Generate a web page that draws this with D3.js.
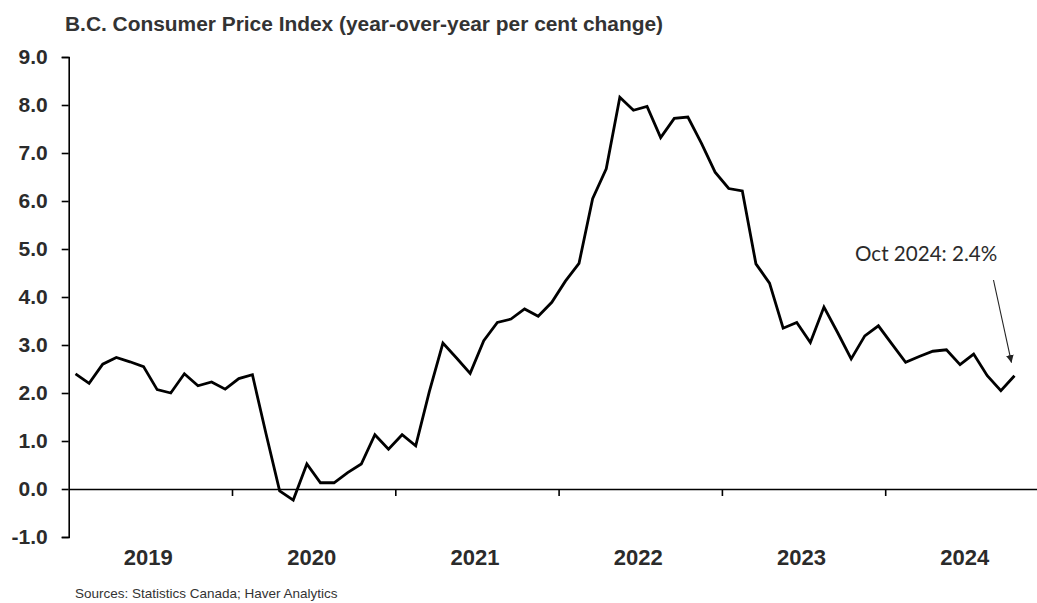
<!DOCTYPE html>
<html>
<head>
<meta charset="utf-8">
<script src="https://cdn.jsdelivr.net/npm/d3@7"></script>
<style>
  html, body { margin: 0; padding: 0; background: #fff; }
  svg { display: block; }
</style>
</head>
<body>
<svg id="chart" width="1037" height="603"></svg>
<script>
// ---- Data ----
const months = [
  "Jan 2019","Feb 2019","Mar 2019","Apr 2019","May 2019","Jun 2019","Jul 2019","Aug 2019","Sep 2019","Oct 2019","Nov 2019","Dec 2019",
  "Jan 2020","Feb 2020","Mar 2020","Apr 2020","May 2020","Jun 2020","Jul 2020","Aug 2020","Sep 2020","Oct 2020","Nov 2020","Dec 2020",
  "Jan 2021","Feb 2021","Mar 2021","Apr 2021","May 2021","Jun 2021","Jul 2021","Aug 2021","Sep 2021","Oct 2021","Nov 2021","Dec 2021",
  "Jan 2022","Feb 2022","Mar 2022","Apr 2022","May 2022","Jun 2022","Jul 2022","Aug 2022","Sep 2022","Oct 2022","Nov 2022","Dec 2022",
  "Jan 2023","Feb 2023","Mar 2023","Apr 2023","May 2023","Jun 2023","Jul 2023","Aug 2023","Sep 2023","Oct 2023","Nov 2023","Dec 2023",
  "Jan 2024","Feb 2024","Mar 2024","Apr 2024","May 2024","Jun 2024","Jul 2024","Aug 2024","Sep 2024","Oct 2024"
];
const cpi = [
  2.4, 2.2, 2.6, 2.74, 2.65, 2.55, 2.07, 2.0, 2.4, 2.15, 2.23, 2.08,
  2.3, 2.38, 1.15, -0.04, -0.23, 0.52, 0.13, 0.13, 0.34, 0.52, 1.13, 0.83,
  1.13, 0.9, 2.03, 3.04, 2.73, 2.41, 3.09, 3.47, 3.54, 3.75, 3.6, 3.89,
  4.33, 4.70, 6.05, 6.67, 8.16, 7.89, 7.97, 7.32, 7.72, 7.75, 7.2, 6.6,
  6.26, 6.21, 4.69, 4.29, 3.35, 3.47, 3.05, 3.79, 3.26, 2.71, 3.19, 3.40,
  3.02, 2.64, 2.76, 2.87, 2.90, 2.59, 2.81, 2.36, 2.05, 2.36
];
const years = ["2019", "2020", "2021", "2022", "2023", "2024"];
const yTicks = [-1, 0, 1, 2, 3, 4, 5, 6, 7, 8, 9];
const titleText = "B.C. Consumer Price Index (year-over-year per cent change)";
const sourceText = "Sources: Statistics Canada; Haver Analytics";
const annotationText = "Oct 2024: 2.4%";

// ---- Layout ----
const svg = d3.select("#chart");
const x = d3.scaleLinear().domain([0, years.length * 12]).range([68.7, 68.7 + 6 * 163.3]);
const y = d3.scaleLinear().domain([-1, 9]).range([537, 57]);
const textColor = "#2b2b2b";
const fmt = d => d3.format(".1f")(d).replace("\u2212", "-");

// Title
svg.append("text")
  .attr("x", 65).attr("y", 31)
  .attr("font-family", "Liberation Sans, Arial, sans-serif")
  .attr("font-weight", "bold").attr("font-size", 20)
  .attr("textLength", 598).attr("lengthAdjust", "spacingAndGlyphs")
  .attr("fill", "#333")
  .text(titleText);

// X axis at zero line
const yearBoundaries = d3.range(1, years.length).map(i => i * 12);
const xAxis = svg.append("g")
  .attr("transform", `translate(0,${y(0)})`)
  .call(d3.axisBottom(x).tickValues(yearBoundaries).tickSize(7).tickSizeOuter(0).tickFormat(""));
xAxis.select(".domain").attr("stroke", "#000").attr("stroke-width", 1.6);
xAxis.selectAll(".tick line").attr("stroke", "#000").attr("stroke-width", 1.6);

// Y axis
const yAxis = svg.append("g")
  .attr("transform", `translate(${x(0)},0)`)
  .call(d3.axisLeft(y).tickValues(yTicks).tickSize(7).tickSizeOuter(7).tickPadding(14).tickFormat(fmt));
yAxis.select(".domain").attr("stroke", "#000").attr("stroke-width", 1.6);
yAxis.selectAll(".tick line").attr("stroke", "#000").attr("stroke-width", 1.6);
yAxis.selectAll(".tick text")
  .attr("font-family", "Liberation Sans, Arial, sans-serif")
  .attr("font-weight", "bold").attr("font-size", 21)
  .attr("fill", textColor);

// Year labels
svg.append("g").selectAll("text").data(years).join("text")
  .attr("x", (d, i) => x(i * 12 + 6) - 2)
  .attr("y", 565)
  .attr("text-anchor", "middle")
  .attr("font-family", "Liberation Sans, Arial, sans-serif")
  .attr("font-weight", "bold").attr("font-size", 22)
  .attr("fill", textColor)
  .text(d => d);

// Line
const line = d3.line()
  .x((d, i) => x(i + 0.5))
  .y(d => y(d));
svg.append("path")
  .datum(cpi)
  .attr("fill", "none")
  .attr("stroke", "#000")
  .attr("stroke-width", 2.8)
  .attr("stroke-linejoin", "miter")
  .attr("d", line);

// Annotation
const lastIdx = cpi.length - 1;
svg.append("defs").append("marker")
  .attr("id", "arrow").attr("viewBox", "0 0 10 10")
  .attr("refX", 10).attr("refY", 5)
  .attr("markerWidth", 7).attr("markerHeight", 7)
  .attr("orient", "auto")
  .append("path").attr("d", "M0,0 L10,5 L0,10 z").attr("fill", "#222");

svg.append("line")
  .attr("x1", x(lastIdx + 0.5) - 21).attr("y1", 280)
  .attr("x2", x(lastIdx + 0.5) - 3).attr("y2", y(cpi[lastIdx]) - 13)
  .attr("stroke", "#222").attr("stroke-width", 1.1)
  .attr("marker-end", "url(#arrow)");

svg.append("text")
  .attr("x", 855).attr("y", 261)
  .attr("font-family", "Lato, sans-serif")
  .attr("font-size", 20.6)
  .attr("fill", textColor)
  .text(annotationText);

// Source
svg.append("text")
  .attr("x", 75).attr("y", 598)
  .attr("font-family", "Liberation Sans, Arial, sans-serif")
  .attr("font-size", 13.5)
  .attr("fill", "#333")
  .text(sourceText);
</script>
</body>
</html>
